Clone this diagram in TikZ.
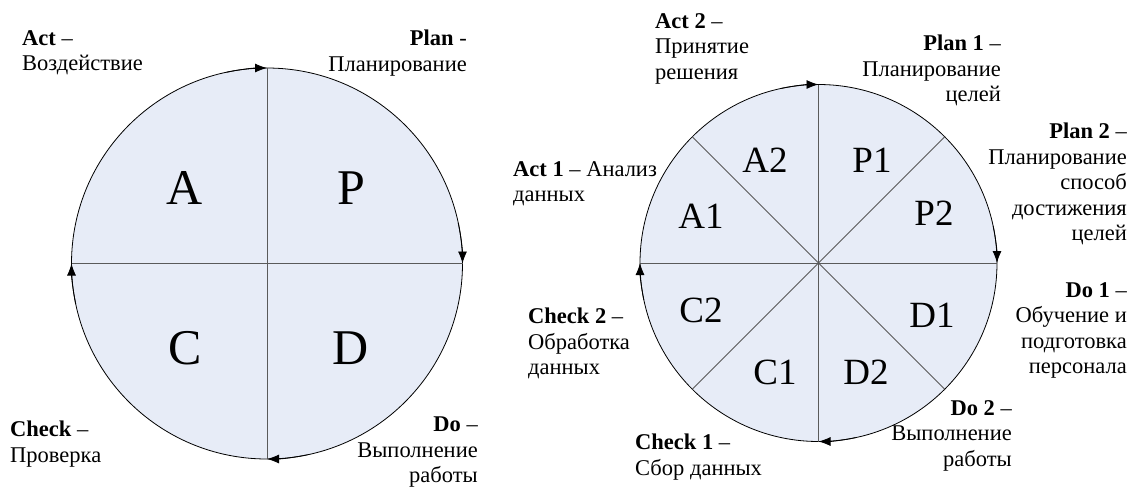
\documentclass[tikz,border=0pt]{standalone}
\usepackage{fontspec}
\setmainfont{Liberation Serif}
\usetikzlibrary{arrows.meta}
\definecolor{sectorfill}{HTML}{E7ECF7}
\definecolor{divline}{HTML}{5A5A5A}
\tikzset{
    lbl/.style={inner sep=0pt, font=\fontsize{22.5}{25.5}\selectfont},
    bigL/.style={inner sep=0pt, font=\fontsize{50}{55}\selectfont},
    bigR/.style={inner sep=0pt, font=\fontsize{37}{40}\selectfont},
    divider/.style={draw=divline, line width=1pt},
    flow/.style={line width=0.8pt, -{Latex[length=12pt,width=9pt]}}
}
\begin{document}
\begin{tikzpicture}[x=1pt,y=1pt]
    \useasboundingbox (0,0) rectangle (1131,-491);
    \coordinate (cLPt) at (267,-263.5);
    \coordinate (cRPt) at (818.5,-263);
    % left circle
    \draw[fill=sectorfill, line width=0.8pt] (cLPt) circle[radius=195.5];
    \foreach \a in {0,90,180,270}
        \coordinate (lP\a) at ([shift={(\a:195.5)}]cLPt);
    \draw[divider] (lP90)-- (lP270);
    \draw[divider] (lP180)-- (lP0);
    \foreach \a in {0,90,180,270}
        \draw[flow] ([shift={(\a+12:195.5)}]cLPt) arc[start angle=\a+12, end angle=\a, radius=195.5];
    % right circle
    \draw[fill=sectorfill, line width=0.8pt] (cRPt) circle[radius=178.5];
    \foreach \a in {0,45,...,315}
        \coordinate (rP\a) at ([shift={(\a:178.5)}]cRPt);
    \draw[divider] (rP90)-- (rP270);
    \draw[divider] (rP180)-- (rP0);
    \draw[divider] (rP45)-- (rP225);
    \draw[divider] (rP135)-- (rP315);
    \foreach \a in {0,90,180,270}
        \draw[flow] ([shift={(\a+12:178.5)}]cRPt) arc[start angle=\a+12, end angle=\a, radius=178.5];
    % sector letters
\foreach \n/\x/\y/\t in
{lA/185/188/A,
    lP/351/188/P,
    lC/185/348/C,
    lD/351/348/D
}
{
    \node[bigL] (\n) at (\x,-\y) {\t};
};
\foreach \n/\x/\y/\t in
{rA2/765/160/A2,
    rP1/872/160/P1,
    rP2/934/213/P2,
    rA1/701/216/A1,
    rC2/701/310/C2,
    rD1/932/315/D1,
    rC1/775/372/C1,
    rD2/866/372/D2
}
{
    \node[bigR] (\n) at (\x,-\y) {\t};
};
    % phase labels
    \node[lbl, anchor=north west, align=left] (tAct) at (22,-30) {\textbf{Act} –\\Воздействие};
    \node[lbl, anchor=north east, align=right] (tPlan) at (467,-30) {\textbf{Plan} -\\Планирование};
    \node[lbl, anchor=north west, align=left] (tCheck) at (10,-421) {\textbf{Check} –\\Проверка};
    \node[lbl, anchor=north east, align=right] (tDo) at (478,-417) {\textbf{Do} –\\Выполнение\\работы};
    \node[lbl, anchor=north west, align=left] (tActB) at (655,-13) {\textbf{Act 2} –\\Принятие\\решения};
    \node[lbl, anchor=north east, align=right] (tPlanA) at (1001,-35) {\textbf{Plan 1} –\\Планирование\\целей};
    \node[lbl, anchor=north east, align=right] (tPlanB) at (1127,-123) {\textbf{Plan 2} –\\Планирование\\способ\\достижения\\целей};
    \node[lbl, anchor=north west, align=left] (tActA) at (513,-161) {\textbf{Act 1} – Анализ\\данных};
    \node[lbl, anchor=north west, align=left] (tCheckB) at (528,-308) {\textbf{Check 2} –\\Обработка\\данных};
    \node[lbl, anchor=north east, align=right] (tDoA) at (1127,-282) {\textbf{Do 1} –\\Обучение и\\подготовка\\персонала};
    \node[lbl, anchor=north east, align=right] (tDoB) at (1012,-400) {\textbf{Do 2} –\\Выполнение\\работы};
    \node[lbl, anchor=north west, align=left] (tCheckA) at (635,-434) {\textbf{Check 1} –\\Сбор данных};
\end{tikzpicture}
\end{document}
